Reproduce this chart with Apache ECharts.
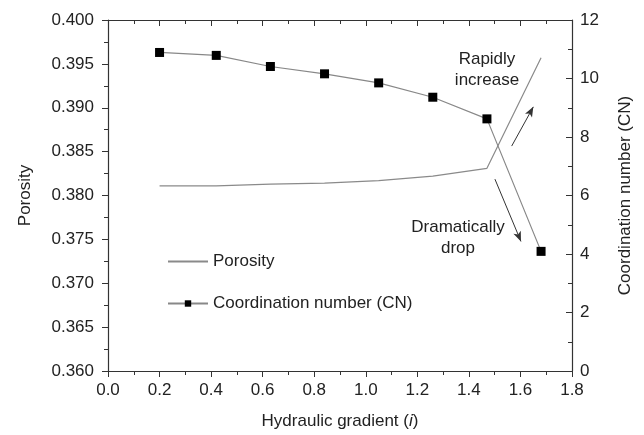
<!DOCTYPE html>
<html>
<head>
<meta charset="utf-8">
<script src="https://cdn.jsdelivr.net/npm/echarts@6/dist/echarts.min.js"></script>
<style>
  html, body { margin: 0; padding: 0; background: #fff; }
  #root { width: 644px; height: 435px; }
</style>
</head>
<body>
<div id="root"></div>
<script>
const gradient = [0.2, 0.42, 0.63, 0.84, 1.05, 1.26, 1.47, 1.68]
const porosity = [0.3811, 0.3811, 0.3813, 0.3814, 0.3817, 0.3822, 0.3831, 0.3957]
const coordNumber = [10.89, 10.79, 10.41, 10.16, 9.85, 9.36, 8.62, 4.09]

// arrows, in data units (x, CN)
const upArrow = [[1.566, 7.69], [1.65, 9.03]]
const downArrow = [[1.501, 6.56], [1.602, 4.43]]

const FONT = '"Liberation Sans", Arial, sans-serif'
const AXIS = '#333'

const chart = echarts.init(document.getElementById('root'))

const pair = (xs, ys) => xs.map((x, i) => [x, ys[i]])

const option = {
  animation: false,
  textStyle: { fontFamily: FONT },
  grid: { left: 108, right: 72, top: 20, bottom: 63 },
  legend: {
    orient: 'vertical',
    left: 162,
    top: 248,
    itemWidth: 40,
    itemHeight: 8,
    itemGap: 25,
    textStyle: { fontSize: 17, color: '#222', fontFamily: FONT },
    data: [
      { name: 'Porosity', itemStyle: { opacity: 0 } },
      { name: 'Coordination number (CN)' }
    ]
  },
  xAxis: [
    {
      type: 'value',
      min: 0, max: 1.8, interval: 0.2,
      name: 'Hydraulic gradient ({i|i})',
      nameLocation: 'middle',
      nameGap: 42,
      nameTextStyle: {
        fontSize: 17, color: '#222', fontFamily: FONT,
        rich: { i: { fontSize: 17, fontStyle: 'italic', color: '#222', fontFamily: FONT } }
      },
      axisLine: { show: true, onZero: false, lineStyle: { color: AXIS, width: 1.2 } },
      axisTick: { show: true, inside: false, length: 6, lineStyle: { color: AXIS } },
      minorTick: { show: true, splitNumber: 2, length: 4, lineStyle: { color: AXIS } },
      axisLabel: { fontSize: 17, color: '#222', margin: 11, formatter: v => v.toFixed(1) },
      splitLine: { show: false }
    },
    {
      type: 'value',
      position: 'top',
      min: 0, max: 1.8, interval: 0.2,
      axisLine: { show: true, onZero: false, lineStyle: { color: AXIS, width: 1.2 } },
      axisTick: { show: true, inside: true, length: 6, lineStyle: { color: AXIS } },
      minorTick: { show: true, splitNumber: 2, length: 4, lineStyle: { color: AXIS } },
      axisLabel: { show: false },
      splitLine: { show: false }
    }
  ],
  yAxis: [
    {
      type: 'value',
      min: 0.36, max: 0.4, interval: 0.005,
      name: 'Porosity',
      nameLocation: 'middle',
      nameGap: 74,
      nameTextStyle: { fontSize: 17, color: '#222', fontFamily: FONT },
      axisLine: { show: true, onZero: false, lineStyle: { color: AXIS, width: 1.2 } },
      axisTick: { show: true, inside: false, length: 6, lineStyle: { color: AXIS } },
      minorTick: { show: true, splitNumber: 2, length: 4, lineStyle: { color: AXIS } },
      axisLabel: { fontSize: 17, color: '#222', margin: 14, formatter: v => v.toFixed(3) },
      splitLine: { show: false }
    },
    {
      type: 'value',
      position: 'right',
      min: 0, max: 12, interval: 2,
      name: 'Coordination number (CN)',
      nameLocation: 'middle',
      nameGap: 45,
      nameTextStyle: { fontSize: 17, color: '#222', fontFamily: FONT },
      axisLine: { show: true, onZero: false, lineStyle: { color: AXIS, width: 1.2 } },
      axisTick: { show: true, inside: true, length: 6, lineStyle: { color: AXIS } },
      minorTick: { show: true, splitNumber: 2, length: 4, lineStyle: { color: AXIS } },
      axisLabel: { fontSize: 17, color: '#222', margin: 8 },
      splitLine: { show: false }
    }
  ],
  series: [
    {
      name: 'Porosity',
      type: 'line',
      xAxisIndex: 0,
      yAxisIndex: 0,
      data: pair(gradient, porosity),
      symbol: 'none',
      lineStyle: { color: '#8a8a8a', width: 1.2 },
      itemStyle: { color: '#8a8a8a' }
    },
    {
      name: 'Coordination number (CN)',
      type: 'line',
      xAxisIndex: 0,
      yAxisIndex: 1,
      data: pair(gradient, coordNumber),
      symbol: 'rect',
      symbolSize: 9,
      lineStyle: { color: '#888', width: 1.2 },
      itemStyle: { color: '#000', borderWidth: 0 },
      markLine: {
        silent: true,
        symbol: ['none', 'arrow'],
        symbolSize: [6, 10],
        lineStyle: { color: '#333', width: 1, type: 'solid' },
        label: { show: false },
        data: [
          [{ coord: upArrow[0] }, { coord: upArrow[1] }],
          [{ coord: downArrow[0] }, { coord: downArrow[1] }]
        ]
      }
    }
  ],
  graphic: [
    {
      type: 'text',
      x: 487, y: 49,
      style: {
        text: 'Rapidly\nincrease',
        font: '17px ' + FONT,
        fill: '#222',
        align: 'center',
        lineHeight: 21
      }
    },
    {
      type: 'text',
      x: 458, y: 217,
      style: {
        text: 'Dramatically\ndrop',
        font: '17px ' + FONT,
        fill: '#222',
        align: 'center',
        lineHeight: 21
      }
    }
  ]
}

chart.setOption(option)
</script>
</body>
</html>
